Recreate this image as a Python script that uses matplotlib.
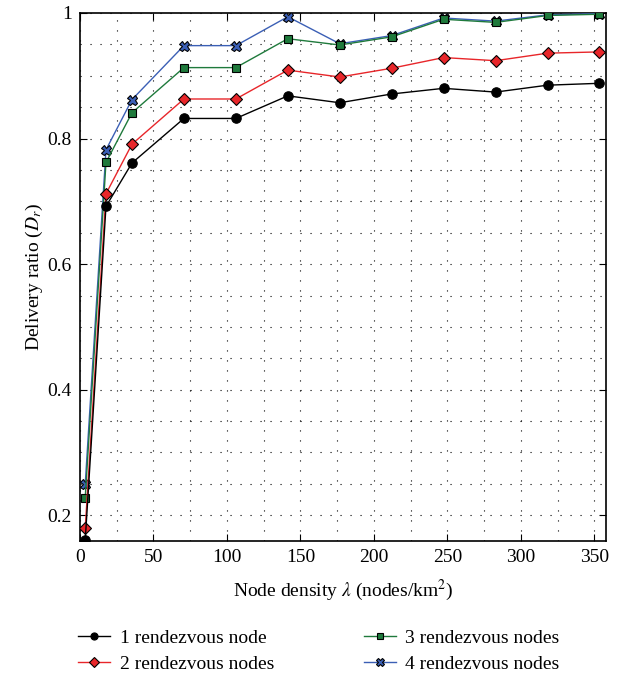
import numpy as np
import matplotlib
matplotlib.use("Agg")
import matplotlib.pyplot as plt
from matplotlib.ticker import MultipleLocator

plt.rcParams['font.family'] = ['Liberation Serif', 'DejaVu Serif']
plt.rcParams['mathtext.fontset'] = 'stix'

density = [3.54, 17.68, 35.36, 70.71, 106.07, 141.42, 176.78, 212.13, 247.49, 282.84, 318.20, 353.55]
r1 = [0.160, 0.692, 0.761, 0.832, 0.832, 0.868, 0.857, 0.871, 0.880, 0.874, 0.885, 0.888]
r2 = [0.179, 0.712, 0.791, 0.863, 0.863, 0.909, 0.898, 0.912, 0.929, 0.924, 0.936, 0.938]
r3 = [0.228, 0.762, 0.841, 0.913, 0.913, 0.959, 0.949, 0.962, 0.990, 0.985, 0.996, 0.998]
r4 = [0.249, 0.782, 0.862, 0.948, 0.948, 0.994, 0.951, 0.964, 0.992, 0.987, 0.997, 0.999]
labels = ["1 rendezvous node", "2 rendezvous nodes", "3 rendezvous nodes", "4 rendezvous nodes"]

fig = plt.figure(figsize=(6.28, 6.76), dpi=100)
ax = fig.add_axes([0.1274, 0.1997, 0.8376, 0.7811])

styles = [
    dict(color='black', marker='o', ms=6.8, z=6),
    dict(color='#e8262a', marker='D', ms=6.5, z=5),
    dict(color='#1f7a3c', marker='s', ms=6.2, z=4),
    dict(color='#3b5fb5', marker='X', ms=7.2, z=3),
]
for ys, lab, st in zip([r1, r2, r3, r4], labels, styles):
    ax.plot(density, ys, color=st['color'], lw=1.0, marker=st['marker'],
            markerfacecolor=st['color'], markeredgecolor='black', markeredgewidth=0.8,
            markersize=st['ms'], label=lab, zorder=st['z'])

ax.set_xlim(0, 358)
ax.set_ylim(0.159, 1.0)
ax.xaxis.set_major_locator(MultipleLocator(50))
ax.xaxis.set_minor_locator(MultipleLocator(25))
ax.yaxis.set_minor_locator(MultipleLocator(0.05))
ax.set_yticks([0.2, 0.4, 0.6, 0.8, 1.0])
ax.set_yticklabels(['0.2', '0.4', '0.6', '0.8', '1'])
ax.grid(True, which='both', linestyle=(0, (1, 8)), color='black', lw=0.8)
ax.tick_params(which='both', direction='in', top=True, right=True, labelsize=14, pad=6)
ax.tick_params(which='major', length=5)
ax.tick_params(which='minor', length=0)
for s in ax.spines.values():
    s.set_linewidth(1.2)

ax.set_xlabel(r"Node density $\lambda$ (nodes/km$^2$)", fontsize=14, labelpad=8)
ax.set_ylabel(r"Delivery ratio ($D_r$)", fontsize=14, labelpad=2)

fig.legend(loc='upper left', bbox_to_anchor=(78 / 628, 1 - 629 / 676), ncol=2, frameon=False,
           fontsize=14, handlelength=1.65, handletextpad=0.5, columnspacing=4.6,
           labelspacing=0.45, markerscale=0.75, borderpad=0, borderaxespad=0)

fig.savefig("out.png", dpi=100)
